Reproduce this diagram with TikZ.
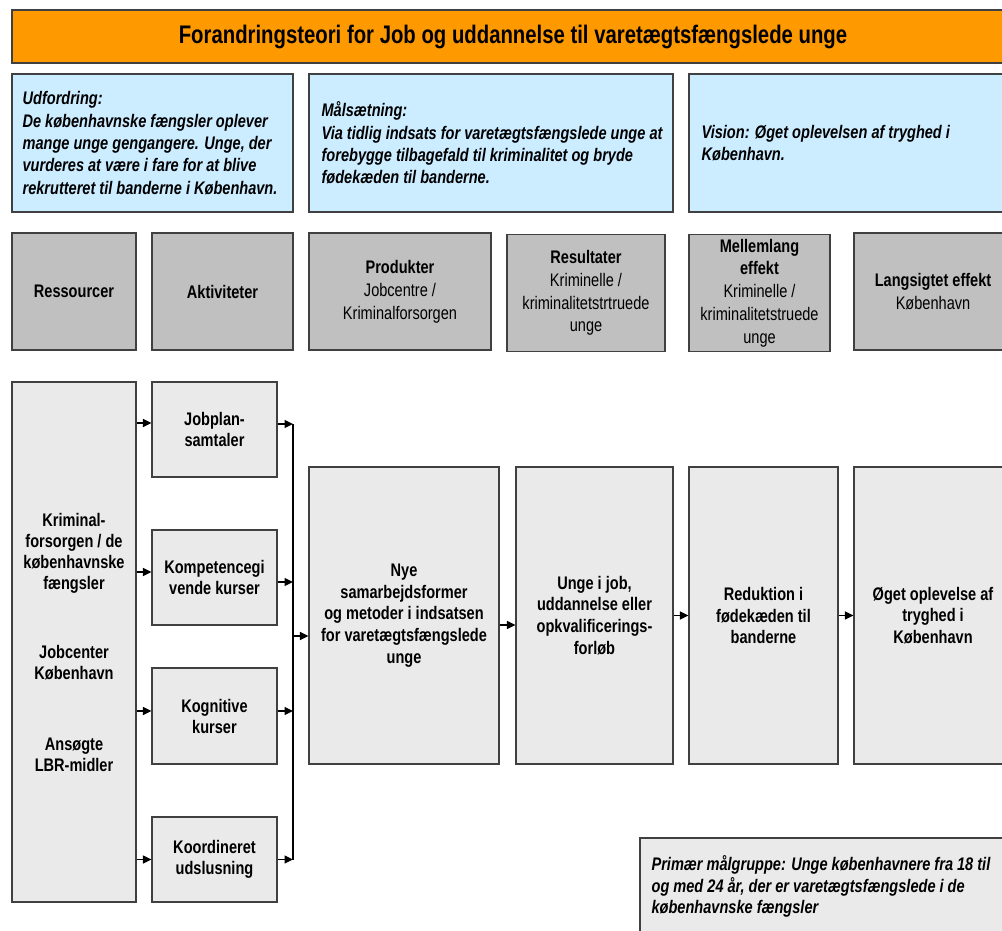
\documentclass[tikz,border=0pt]{standalone}
\usepackage{fontspec}
\setmainfont[FakeStretch=0.8]{Liberation Sans}
\usetikzlibrary{arrows.meta,calc}
\definecolor{bordc}{RGB}{64,64,64}
\definecolor{bannerc}{RGB}{255,153,0}
\definecolor{bluec}{RGB}{204,236,255}
\definecolor{headc}{RGB}{192,192,192}
\definecolor{lightc}{RGB}{234,234,234}
\begin{document}
\begin{tikzpicture}[x=1pt,y=-1pt,
  box/.style={draw=bordc, line width=1.2pt, inner sep=0pt, align=center},
  banner/.style={box, fill=bannerc, font=\fontsize{25.4}{30}\selectfont\bfseries},
  bluebox/.style={box, fill=bluec},
  headbox/.style={box, fill=headc, font=\fontsize{18.2}{22.8}\selectfont},
  actbox/.style={box, fill=lightc, font=\fontsize{18.2}{21}\selectfont\bfseries},
  bigbox/.style={box, fill=lightc, font=\fontsize{18.2}{21.8}\selectfont\bfseries},
  ltext/.style={anchor=west, inner sep=0pt, align=left, font=\fontsize{18.2}{22.4}\selectfont\bfseries\itshape},
  arr/.style={line width=1.3pt, -{Triangle[length=8.5pt,width=8pt]}},
  bus/.style={line width=1.3pt}
]
\path[use as bounding box, clip] (0,0) rectangle (1002,930);

% title
\node[banner, minimum width=1002, minimum height=53] (title) at (513,36.5)
  {Forandringsteori for Job og uddannelse til varetægtsfængslede unge};

% blue boxes
\node[bluebox, minimum width=281, minimum height=138] (chal) at (152.5,143) {};
\node[ltext] (chalT) at ([xshift=11pt]chal.west)
  {Udfordring:\\De københavnske fængsler oplever\\mange unge gengangere. Unge, der\\vurderes at være i fare for at blive\\rekrutteret til banderne i København.};
\node[bluebox, minimum width=364, minimum height=138] (goal) at (491,143) {};
\node[ltext] (goalT) at ([xshift=13pt]goal.west)
  {Målsætning:\\Via tidlig indsats for varetægtsfængslede unge at\\forebygge tilbagefald til kriminalitet og bryde\\fødekæden til banderne.};
\node[bluebox, minimum width=326, minimum height=138] (vis) at (852,143) {};
\node[ltext] (visT) at ([xshift=13pt]vis.west)
  {Vision: Øget oplevelsen af tryghed i\\København.};

% header boxes
\node[headbox, minimum width=124, minimum height=117] (hres) at (74,291.5) {\textbf{Ressourcer}};
\node[headbox, minimum width=141, minimum height=117] (hakt) at (222.5,291.5) {\textbf{Aktiviteter}};
\node[headbox, minimum width=182, minimum height=117] (hprod) at (400,291.5)
  {\textbf{Produkter}\\Jobcentre /\\Kriminalforsorgen};
\node[headbox, minimum width=158, minimum height=117] (hresu) at (586,293)
  {\textbf{Resultater}\\Kriminelle /\\kriminalitetstrtruede\\unge};
\node[headbox, minimum width=141, minimum height=117] (hmel) at (759.5,293)
  {\textbf{Mellemlang}\\\textbf{effekt}\\Kriminelle /\\kriminalitetstruede\\unge};
\node[headbox, minimum width=158, minimum height=117] (hlang) at (933,291.5)
  {\textbf{Langsigtet effekt}\\København};

% resources
\node[actbox, minimum width=124, minimum height=520] (res) at (74,642)
  {Kriminal-\\forsorgen / de\\københavnske\\fængsler\\[48pt]Jobcenter\\København\\[50pt]Ansøgte\\LBR-midler};

% activities
\node[actbox, minimum width=125, minimum height=95] (jp) at (214.5,429.5) {Jobplan-\\samtaler};
\node[actbox, minimum width=125, minimum height=95] (komp) at (214.5,577.5) {Kompetencegi\\vende kurser};
\node[actbox, minimum width=125, minimum height=96] (kog) at (214.5,716) {Kognitive\\kurser};
\node[actbox, minimum width=125, minimum height=85] (koo) at (214.5,859.5) {Koordineret\\udslusning};

% outcome chain
\node[bigbox, minimum width=190, minimum height=297] (nye) at (404,615.5)
  {Nye\\samarbejdsformer\\og metoder i indsatsen\\for varetægtsfængslede\\unge};
\node[bigbox, minimum width=157, minimum height=297] (unge) at (594.5,615.5)
  {Unge i job,\\uddannelse eller\\opkvalificerings-\\forløb};
\node[bigbox, minimum width=149, minimum height=297] (red) at (763.5,615.5)
  {Reduktion i\\fødekæden til\\banderne};
\node[bigbox, minimum width=158, minimum height=297] (oget) at (933,615.5)
  {Øget oplevelse af\\tryghed i\\København};

% target group
\node[box, fill=lightc, minimum width=375, minimum height=97] (target) at (827.5,886.5) {};
\node[ltext, font=\fontsize{18.2}{21.5}\selectfont\bfseries\itshape] (targetT) at ([xshift=12pt]target.west)
  {Primær målgruppe: Unge københavnere fra 18 til\\og med 24 år, der er varetægtsfængslede i de\\københavnske fængsler};

% connectors: resources -> activities
\coordinate (jpIn) at ([yshift=6.5pt]jp.west);
\coordinate (kompIn) at ([yshift=5.5pt]komp.west);
\coordinate (kogIn) at ([yshift=5pt]kog.west);
\coordinate (kooIn) at (koo.west);
\foreach \t in {jpIn,kompIn,kogIn,kooIn}
  \draw[arr] (res.east |- \t) -- (\t);

% activities -> bus
\coordinate (busx) at ($(jp.east)!0.5!(nye.west)$);
\coordinate (jpOut) at ([yshift=5.5pt]jp.east);
\coordinate (kompOut) at ([yshift=-4.5pt]komp.east);
\coordinate (kogOut) at ([yshift=5pt]kog.east);
\coordinate (kooOut) at (koo.east);
\foreach \t in {jpOut,kompOut,kogOut,kooOut}
  \draw[arr] (\t) -- (busx |- \t);
\draw[bus] (busx |- jpOut) -- (busx |- kooOut);
\coordinate (nyeIn) at ([yshift=-20.5pt]nye.west);
\draw[arr] (busx |- nyeIn) -- (nyeIn);

% chain arrows
\coordinate (ungeIn) at ([yshift=-9.5pt]unge.west);
\draw[arr] (nye.east |- ungeIn) -- (ungeIn);
\draw[arr] (unge.east) -- (red.west);
\draw[arr] (red.east) -- (oget.west);
\end{tikzpicture}
\end{document}
